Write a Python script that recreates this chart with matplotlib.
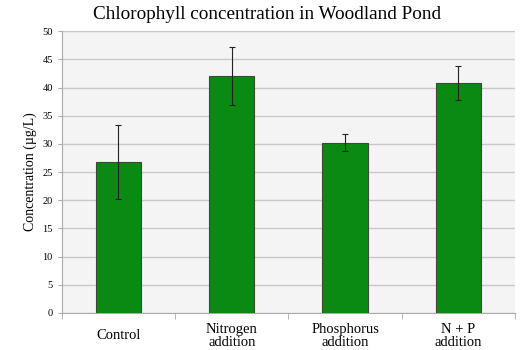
import numpy as np
import matplotlib.pyplot as plt

# data
categories = ['Control', 'Nitrogen\naddition', 'Phosphorus\naddition', 'N + P\naddition']
means = [26.8, 42.0, 30.1, 40.8]
err_low = [6.6, 5.1, 1.4, 3.0]
err_high = [6.5, 5.2, 1.6, 3.0]

plt.rcParams['font.family'] = ['Liberation Serif', 'DejaVu Serif']

fig = plt.figure(figsize=(5.24, 3.5), dpi=100)
ax = fig.add_axes([0.118, 0.106, 0.865, 0.805])

x = np.arange(len(categories))
ax.bar(x, means, width=0.4, color='#0b8a13', edgecolor='#3a4a3a', linewidth=0.8, zorder=3)
ax.errorbar(x, means, yerr=[err_low, err_high], fmt='none', ecolor='#222222',
            elinewidth=0.8, capsize=2.5, capthick=0.8, zorder=4)

ax.set_xlim(-0.5, len(categories) - 0.5)
ax.set_ylim(0, 50)
ax.set_yticks(np.arange(0, 51, 5))
ax.set_facecolor('#f4f4f4')
ax.grid(axis='y', color='#c8c8c8', linewidth=1, zorder=0)

# category labels centred vertically, boundary tick marks
ax.set_xticks(x)
ax.set_xticklabels(categories, fontsize=10.5, linespacing=1.0, va='center')
ax.tick_params(axis='x', length=0, pad=16.5)
ax.set_xticks(np.arange(-0.5, len(categories), 1), minor=True)
ax.tick_params(axis='x', which='minor', length=4, color='#aaaaaa')
ax.tick_params(axis='y', labelsize=7.5, length=3, color='#aaaaaa')

for s in ['top', 'right']:
    ax.spines[s].set_visible(False)
ax.spines['left'].set_color('#aaaaaa')
ax.spines['bottom'].set_color('#aaaaaa')

ax.set_ylabel('Concentration (µg/L)', fontsize=10)
fig.text(0.51, 0.958, 'Chlorophyll concentration in Woodland Pond', fontsize=13.8,
         ha='center', va='center')

fig.savefig('out.png', dpi=100)
